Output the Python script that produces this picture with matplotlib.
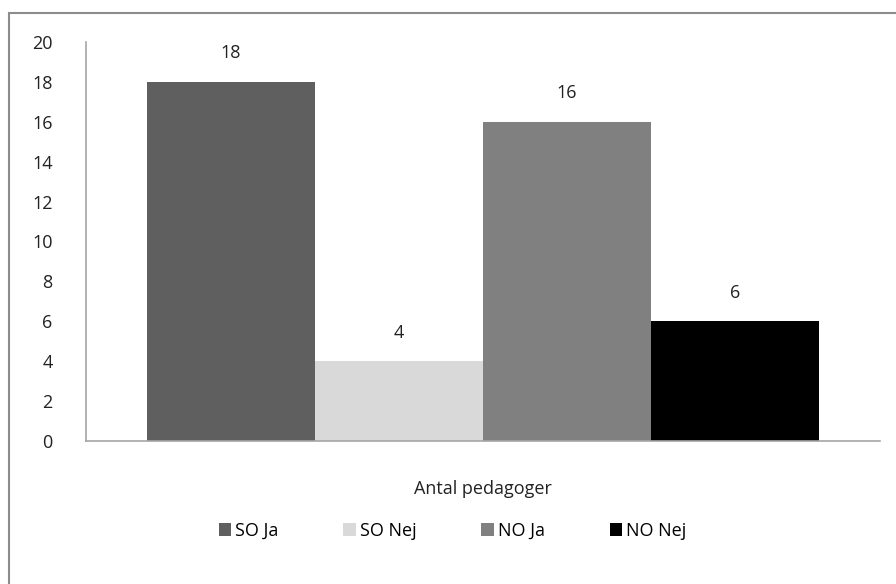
import matplotlib.pyplot as plt
from matplotlib.patches import Rectangle

# Data
categories = ['SO Ja', 'SO Nej', 'NO Ja', 'NO Nej']
values = [18, 4, 16, 6]
colors = ['#5f5f5f', '#d9d9d9', '#808080', '#000000']
yticks = list(range(0, 21, 2))

plt.rcParams['font.family'] = ['Open Sans', 'DejaVu Sans']

fig = plt.figure(figsize=(8.96, 5.84), dpi=100)
ax = fig.add_axes([0.096, 0.245, 0.886, 0.683])

# Border around the chart area
fig.patches.append(Rectangle((9 / 896, -0.01), 1.0, 1 - 13 / 584 + 0.01,
                             transform=fig.transFigure, fill=False,
                             edgecolor='#8c8c8c', linewidth=1.5))

bar_w = 168 / 794
x0 = 0.5 - 2 * bar_w
for i, (cat, val, col) in enumerate(zip(categories, values, colors)):
    xc = x0 + (i + 0.5) * bar_w
    ax.bar(xc, val, width=bar_w, color=col, label=cat)
    ax.annotate(str(val), (xc, val), xytext=(0, 14), textcoords='offset points',
                ha='center', va='bottom', fontsize=13, color='#222222')

ax.set_xlim(0, 1)
ax.set_ylim(0, 20)
ax.set_yticks(yticks)
ax.tick_params(axis='y', length=0, labelsize=13, pad=24, labelcolor='#222222')
ax.set_xticks([])
for s in ['top', 'right']:
    ax.spines[s].set_visible(False)
ax.spines['left'].set_color('#a6a6a6')
ax.spines['bottom'].set_color('#a6a6a6')
ax.spines['left'].set_linewidth(1.2)
ax.spines['bottom'].set_linewidth(1.2)

ax.set_xlabel('Antal pedagoger', fontsize=13, labelpad=28, color='#222222')

fig.legend(loc='center', bbox_to_anchor=(0.505, 1 - 531 / 584), ncol=4, frameon=False,
           fontsize=13, handlelength=0.7, handleheight=0.7, handletextpad=0.2,
           columnspacing=3.6)

fig.savefig('out.png', dpi=100)
